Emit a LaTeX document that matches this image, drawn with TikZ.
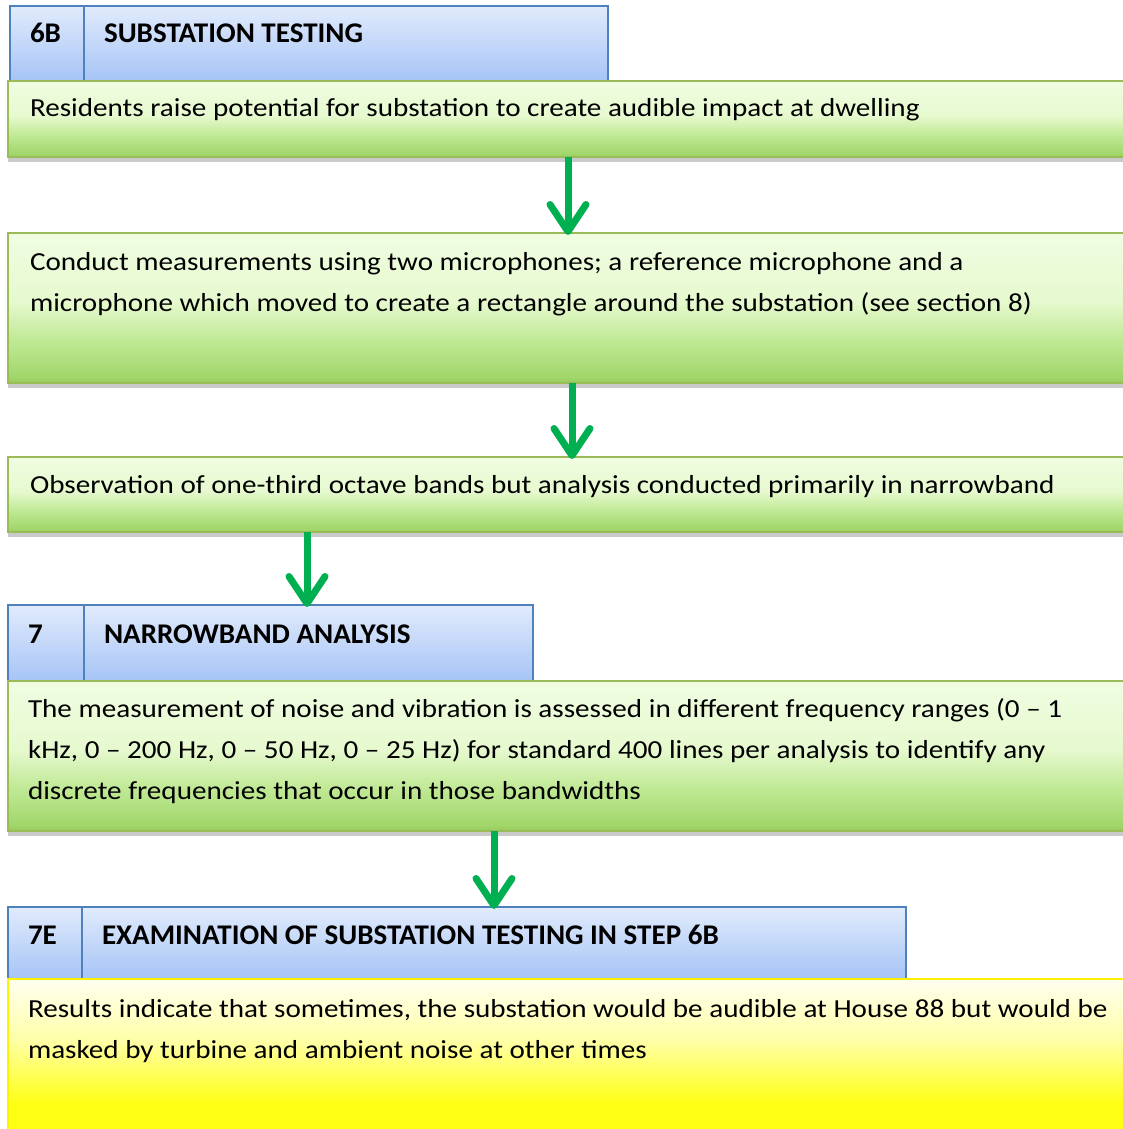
\documentclass[tikz,border=0pt]{standalone}
\usepackage{fontspec}
\setmainfont{Carlito}
\usetikzlibrary{arrows.meta,shadows}
\definecolor{gtop}{HTML}{F0FDE2}
\definecolor{glight}{HTML}{E6F9CE}
\definecolor{gmid}{HTML}{C2EA98}
\definecolor{gbot}{HTML}{A0D66A}
\definecolor{gedge}{HTML}{96CC5C}
\definecolor{gborder}{HTML}{9BBB59}
\definecolor{btop}{HTML}{E1EBFC}
\definecolor{bbot}{HTML}{A6C4F6}
\definecolor{bborder}{HTML}{4F81BD}
\definecolor{ytop}{HTML}{FFFFF0}
\definecolor{ymid}{HTML}{FFFFA8}
\definecolor{ybot}{HTML}{FFFF14}
\definecolor{arrgreen}{HTML}{00B050}
% the path covers the middle 50bp (25bp..75bp) of a TikZ shading
\pgfdeclareverticalshading{greenfill}{100bp}{color(0bp)=(gedge); color(25bp)=(gedge); color(27bp)=(gbot); color(40bp)=(gmid); color(52bp)=(glight); color(75bp)=(gtop); color(100bp)=(gtop)}
\pgfdeclareverticalshading{bluefill}{100bp}{color(0bp)=(bbot); color(25bp)=(bbot); color(75bp)=(btop); color(100bp)=(btop)}
\pgfdeclareverticalshading{yellowfill}{100bp}{color(0bp)=(ybot); color(34bp)=(ybot); color(55bp)=(ymid); color(75bp)=(ytop); color(100bp)=(ytop)}
\begin{document}
\begin{tikzpicture}[x=1pt,y=-1pt,
  every node/.style={inner sep=0pt, outer sep=0pt},
  greenbox/.style={anchor=north west, shading=greenfill, draw=gborder, line width=2pt,
    drop shadow={shadow xshift=0pt, shadow yshift=-5pt, opacity=0.35, fill=black!60}},
  yellowbox/.style={anchor=north west, shading=yellowfill, draw=yellow, line width=2pt},
  headbox/.style={anchor=north west, shading=bluefill, draw=bborder, line width=1.6pt},
  divline/.style={draw=bborder, line width=1.6pt},
  bodytext/.style={anchor=base west, align=left, xscale=1.12, font=\fontsize{26}{41}\selectfont},
  headtext/.style={anchor=base west, xscale=1.02, font=\fontsize{28.5}{30}\selectfont\bfseries},
  flowarrow/.style={draw=arrgreen, line width=7pt, -{Straight Barb[length=27pt,width=36pt,line width=7pt,round]}},
]
\useasboundingbox (0,0) rectangle (1122,1129);
\coordinate (d1) at (84,0);
\coordinate (d2) at (84,0);
\coordinate (d3) at (82,0);
\coordinate (a1) at (568,0);
\coordinate (a2) at (572,0);
\coordinate (a3) at (307,0);
\coordinate (a4) at (494,0);

% headers
\node[headbox, minimum width=598pt, minimum height=75pt] (h1) at (10,6) {};
\draw[divline] (h1.north west -| d1) -- (h1.south west -| d1);
\node[headbox, minimum width=525pt, minimum height=76pt] (h2) at (8,605) {};
\draw[divline] (h2.north west -| d2) -- (h2.south west -| d2);
\node[headbox, minimum width=898pt, minimum height=72pt] (h3) at (8,907) {};
\draw[divline] (h3.north west -| d3) -- (h3.south west -| d3);

% green boxes
\node[greenbox, minimum width=1120pt, minimum height=76pt] (b1) at (8,81) {};
\node[greenbox, minimum width=1120pt, minimum height=150pt] (b2) at (8,233) {};
\node[greenbox, minimum width=1120pt, minimum height=75pt] (b3) at (8,457) {};
\node[greenbox, minimum width=1120pt, minimum height=150pt] (b4) at (8,681) {};
\node[yellowbox, minimum width=1120pt, minimum height=152pt] (b5) at (8,979) {};

% header texts
\node[headtext] (n1) at (30,43) {6B};
\node[headtext] (n1t) at (104,43) {SUBSTATION TESTING};
\node[headtext] (n2) at (28,643) {7};
\node[headtext] (n2t) at (104,643) {NARROWBAND ANALYSIS};
\node[headtext] (n3) at (28,944) {7E};
\node[headtext] (n3t) at (102,944) {EXAMINATION OF SUBSTATION TESTING IN STEP 6B};

% body texts (base anchor = last line)
\node[bodytext] (t1) at (30,117) {Residents raise potential for substation to create audible impact at dwelling};
\node[bodytext] (t2) at (30,311) {Conduct measurements using two microphones; a reference microphone and a\\ microphone which moved to create a rectangle around the substation (see section 8)};
\node[bodytext] (t3) at (30,493) {Observation of one-third octave bands but analysis conducted primarily in narrowband};
\node[bodytext] (t4) at (28,799) {The measurement of noise and vibration is assessed in different frequency ranges (0 -- 1\\ kHz, 0 -- 200 Hz, 0 -- 50 Hz, 0 -- 25 Hz) for standard 400 lines per analysis to identify any\\ discrete frequencies that occur in those bandwidths};
\node[bodytext] (t5) at (28,1058) {Results indicate that sometimes, the substation would be audible at House 88 but would be\\ masked by turbine and ambient noise at other times};

% arrows
\draw[flowarrow] (b1.south -| a1) -- ([yshift=-2pt]b2.north -| a1);
\draw[flowarrow] (b2.south -| a2) -- ([yshift=-2pt]b3.north -| a2);
\draw[flowarrow] (b3.south -| a3) -- ([yshift=-2pt]h2.north -| a3);
\draw[flowarrow] (b4.south -| a4) -- ([yshift=-2pt]h3.north -| a4);
\end{tikzpicture}
\end{document}
